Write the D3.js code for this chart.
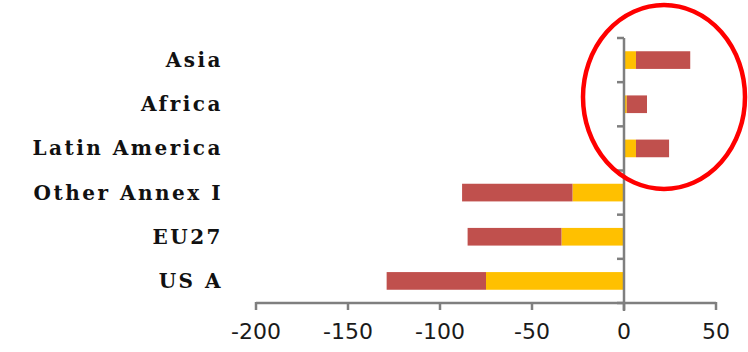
<!DOCTYPE html>
<html><head><meta charset="utf-8">
<script src="https://cdn.jsdelivr.net/npm/d3@7"></script>
<style>html,body{margin:0;padding:0;background:#fff;}</style>
</head><body>
<svg id="c" width="748" height="352"></svg>
<script>
const categories = ["Asia","Africa","Latin America","Other Annex I","EU27","US A"];
const seriesYellow = [6.5, 1.5, 6.5, -28, -34, -75];
const seriesRed = [29.5, 11, 18, -60, -51, -54];
const xTicks = [-200,-150,-100,-50,0,50];

const svg = d3.select("#c");
const x = d3.scaleLinear().domain([-200,50]).range([256,716]);
const y = d3.scaleBand().domain(categories).range([38,303]).paddingInner(0.6).paddingOuter(0.3);
const yb = d3.scaleBand().domain(categories).range([38,303]);

// bars
categories.forEach((c,i)=>{
  const a = seriesYellow[i], b = seriesRed[i];
  svg.append("rect").attr("x", x(Math.min(0,a))).attr("width", Math.abs(x(a)-x(0)))
    .attr("y", y(c)).attr("height", y.bandwidth()).attr("fill","#FFC000");
  const s = a, e = a + b;
  svg.append("rect").attr("x", x(Math.min(s,e))).attr("width", Math.abs(x(e)-x(s)))
    .attr("y", y(c)).attr("height", y.bandwidth()).attr("fill","#C0504D");
});

const axisColor = "#7f7f7f";
// x axis
svg.append("line").attr("x1",x(-200)).attr("x2",x(50)).attr("y1",303).attr("y2",303)
  .attr("stroke",axisColor).attr("stroke-width",2.5);
xTicks.forEach(t=>{
  svg.append("line").attr("x1",x(t)).attr("x2",x(t)).attr("y1",302).attr("y2",310)
    .attr("stroke",axisColor).attr("stroke-width",2.5);
  svg.append("text").attr("x",x(t)).attr("y",339).attr("text-anchor","middle")
    .attr("font-family","DejaVu Sans, Verdana, sans-serif").attr("font-size",22)
    .attr("fill","#1a1a1a").text(t);
});
// y axis
svg.append("line").attr("x1",x(0)).attr("x2",x(0)).attr("y1",38).attr("y2",311)
  .attr("stroke",axisColor).attr("stroke-width",2.5);
const bounds = categories.map(c=>yb(c)).concat([303]);
bounds.forEach(v=>{
  svg.append("line").attr("x1",x(0)-7).attr("x2",x(0)).attr("y1",v).attr("y2",v)
    .attr("stroke",axisColor).attr("stroke-width",2.5);
});
categories.forEach(c=>{
  svg.append("text").attr("x",223).attr("y",yb(c)+yb.bandwidth()/2).attr("dy","0.35em")
    .attr("text-anchor","end").attr("font-family","DejaVu Serif, serif")
    .attr("font-size",20).attr("font-weight","bold").attr("letter-spacing","2.5px")
    .attr("fill","#111").text(c);
});
// red ellipse highlight
svg.append("ellipse").attr("cx",664).attr("cy",97).attr("rx",81).attr("ry",92)
  .attr("fill","none").attr("stroke","#f00").attr("stroke-width",4.5);
</script>
</body></html>
